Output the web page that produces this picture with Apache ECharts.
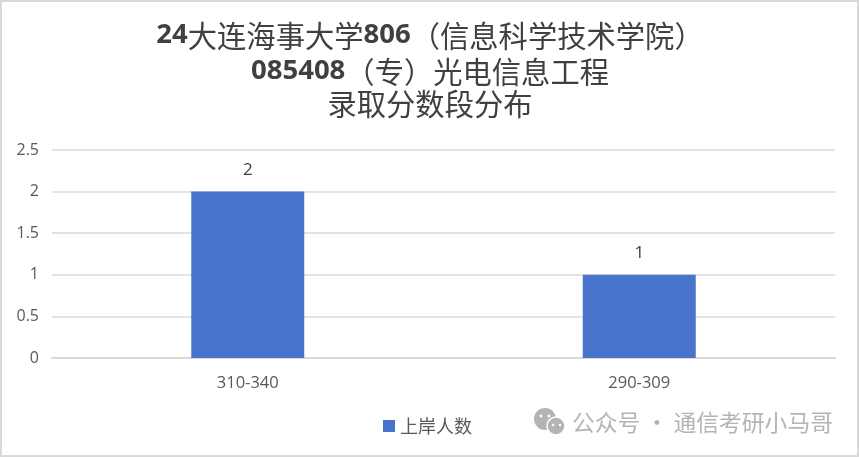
<!DOCTYPE html>
<html>
<head>
<meta charset="utf-8">
<style>
    html, body { margin: 0; padding: 0; background: #fff; }
    #chart { width: 859px; height: 457px; }
</style>
<script src="https://cdn.jsdelivr.net/npm/echarts@6/dist/echarts.min.js"></script>
</head>
<body>
<div id="chart"></div>
<script>
    var categories = ['310-340', '290-309'];
    var admitted = [2, 1];
    var seriesName = '上岸人数';
    var yMax = 2.5;
    var yStep = 0.5;

    var latinFont = '"Open Sans", "Noto Sans", sans-serif';
    var cjkFont = '"Noto Sans CJK SC", sans-serif';

    var titleRich = {
        l: { fontFamily: latinFont, fontWeight: 'bold', fontSize: 27.5, color: '#404040' },
        c: { fontFamily: cjkFont, fontWeight: 'normal', fontSize: 29.3, color: '#404040' }
    };

    var chart = echarts.init(document.getElementById('chart'));
    chart.setOption({
        animation: false,
        backgroundColor: '#fff',
        title: [
            {
                text: '{l|24}{c|大连海事大学}{l|806}{c|（信息科学技术学院）}',
                left: 425, top: 16, textAlign: 'center',
                textStyle: { rich: titleRich }
            },
            {
                text: '{l|085408}{c|（专）光电信息工程}',
                left: 425, top: 52, textAlign: 'center',
                textStyle: { rich: titleRich }
            },
            {
                text: '{c|录取分数段分布}',
                left: 425, top: 84, textAlign: 'center',
                textStyle: { rich: titleRich }
            }
        ],
        legend: {
            data: [seriesName],
            left: 378, top: 412,
            itemWidth: 12, itemHeight: 12, itemGap: 6,
            icon: 'rect',
            textStyle: { fontFamily: cjkFont, fontSize: 18, color: '#595959' }
        },
        grid: { left: 52, right: 24, top: 150, bottom: 99 },
        xAxis: {
            type: 'category',
            data: categories,
            axisLine: { lineStyle: { color: '#d9d9d9', width: 2 } },
            axisTick: { show: false },
            axisLabel: { margin: 17, fontFamily: latinFont, fontSize: 16.5, color: '#595959' }
        },
        yAxis: {
            type: 'value',
            min: 0,
            max: yMax,
            interval: yStep,
            axisLine: { show: false },
            axisTick: { show: false },
            splitLine: { lineStyle: { color: '#e3e3e3', width: 2 } },
            axisLabel: { margin: 13, padding: [6, 0, 0, 0], fontFamily: latinFont, fontSize: 16, color: '#595959' }
        },
        series: [{
            name: seriesName,
            type: 'bar',
            data: admitted,
            barWidth: 113,
            itemStyle: { color: '#4874cb' },
            label: {
                show: true,
                position: 'top',
                distance: 13,
                fontFamily: latinFont,
                fontSize: 17,
                color: '#404040'
            }
        }],
        graphic: [
            // outer frame of the screenshot
            { type: 'rect', silent: true, shape: { x: 1, y: 1, width: 857, height: 455 },
              style: { fill: 'none', stroke: '#d9d9d9', lineWidth: 2 } },
            // watermark
            { type: 'circle', shape: { cx: 545, cy: 419, r: 11 }, style: { fill: '#b4b4b4' } },
            { type: 'circle', shape: { cx: 556, cy: 426, r: 9 }, style: { fill: '#b4b4b4', stroke: '#fff', lineWidth: 1.5 } },
            { type: 'circle', shape: { cx: 541, cy: 416, r: 1.5 }, style: { fill: '#fff' } },
            { type: 'circle', shape: { cx: 549, cy: 416, r: 1.5 }, style: { fill: '#fff' } },
            { type: 'circle', shape: { cx: 553, cy: 425, r: 1.3 }, style: { fill: '#fff' } },
            { type: 'circle', shape: { cx: 560, cy: 425, r: 1.3 }, style: { fill: '#fff' } },
            { type: 'text', x: 572, y: 411,
              style: { text: '公众号 · 通信考研小马哥', fontFamily: cjkFont, fontSize: 22.8, fill: '#b4b4b4' } }
        ]
    });
</script>
</body>
</html>
